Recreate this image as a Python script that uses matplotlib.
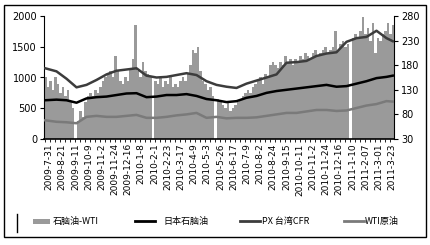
import matplotlib
matplotlib.use("Agg")
import matplotlib.pyplot as plt
import numpy as np
from matplotlib.lines import Line2D
from matplotlib.patches import Rectangle

plt.rcParams['font.family'] = ['Noto Sans CJK SC', 'DejaVu Sans']

# ---- data ----
spread = [1000, 850, 950, 800, 1000, 900, 750, 850, 700, 800,
          600, 500, 0, 300, 450, 350, 600, 700, 750, 700,
          800, 750, 850, 950, 1000, 1050, 1100, 1000, 1350, 1100,
          950, 900, 1000, 950, 1150, 1300, 1850, 1100, 1000, 1250,
          1100, 1050, 1000, 0, 950, 900, 1000, 850, 950, 900,
          1000, 850, 900, 850, 950, 1000, 950, 1050, 1200, 1450,
          1400, 1500, 1100, 950, 900, 800, 850, 700, 0, 650,
          600, 550, 500, 600, 450, 500, 550, 600, 650, 700,
          750, 800, 750, 850, 900, 950, 1000, 900, 1050, 1000,
          1200, 1250, 1200, 1150, 1250, 1200, 1350, 1250, 1300, 1200,
          1300, 1250, 1350, 1300, 1400, 1350, 1300, 1400, 1450, 1350,
          1400, 1450, 1500, 1400, 1450, 1500, 1750, 1450, 1550, 1600,
          1500, 1550, 0, 1650, 1700, 1650, 1750, 1980, 1700, 1800,
          1600, 1880, 1400, 1650, 1600, 1700, 1750, 1880, 1700, 1850]

line_idx = [0, 4.5, 8.5, 12.5, 16.5, 20.5, 24.5, 28.5, 32.5, 36.5, 40.5, 44.5,
            48.5, 52.5, 56.5, 60.5, 64.5, 68.5, 72.5, 76.5, 80.5, 84.5, 88.5, 92.5,
            96.5, 100.5, 104.5, 108.5, 112.5, 116.5, 120.5, 124.5, 128.5, 132.5, 136.5, 139]
px_cfr = [1150, 1100, 980, 840, 880, 960, 1050, 1110, 1130, 1150, 1030, 1000,
          1010, 1040, 1070, 1040, 940, 880, 850, 830, 900, 950, 1000, 1050,
          1240, 1250, 1270, 1350, 1390, 1410, 1580, 1640, 1660, 1760, 1640, 1590]
naphtha_jp = [630, 640, 630, 590, 660, 680, 690, 715, 740, 745, 680, 690,
              715, 715, 730, 700, 650, 630, 600, 615, 670, 700, 750, 780,
              800, 820, 840, 860, 880, 850, 860, 900, 940, 990, 1010, 1030]
wti = [68, 65, 64, 62, 75, 77, 75, 75, 77, 79, 73, 73,
       75, 78, 80, 83, 73, 75, 72, 73, 73, 74, 77, 80,
       83, 83, 86, 89, 89, 87, 88, 93, 98, 101, 107, 106]

date_labels = ["2009-7-31", "2009-8-21", "2009-9-11", "2009-10-9", "2009-11-2",
               "2009-11-24", "2009-12-16", "2010-1-8", "2010-2-1", "2010-2-23",
               "2010-3-17", "2010-4-9", "2010-5-3", "2010-5-26", "2010-6-17",
               "2010-7-9", "2010-8-2", "2010-8-24", "2010-9-15", "2010-10-11",
               "2010-11-2", "2010-11-24", "2010-12-16", "2011-1-10", "2011-2-07",
               "2011-3-01", "2011-3-23"]

legend_labels = ["石脑油-WTI", "日本石脑油", "PX 台湾CFR", "WTI原油"]

# ---- figure ----
W, H = 430, 245
fig = plt.figure(figsize=(W / 100, H / 100), dpi=100)
fig.patch.set_facecolor("white")

def fx(px):
    return px / W

def fy(py):
    return 1 - py / H

ax = fig.add_axes([fx(44), fy(139), fx(394) - fx(44), fy(16) - fy(139)])
ax2 = ax.twinx()

n = len(spread)
x = np.arange(n)
ax.bar(x, spread, width=1.0, color="#9a9a9a", edgecolor="none", zorder=1)
ax.plot(line_idx, naphtha_jp, color="black", lw=1.8, zorder=3)
ax.plot(line_idx, px_cfr, color="#3c3c3c", lw=1.8, zorder=3)
ax2.plot(line_idx, wti, color="#7a7a7a", lw=1.8, zorder=3)

ax.set_xlim(-0.5, n - 0.5)
ax.set_ylim(0, 2000)
ax.set_yticks([0, 500, 1000, 1500, 2000])
ax2.set_ylim(30, 280)
ax2.set_yticks([30, 80, 130, 180, 230, 280])

tick_pos = np.linspace(1.5, 138.7, len(date_labels))
ax.set_xticks(tick_pos)
ax.set_xticklabels(date_labels, rotation=90, fontsize=6.5, family="DejaVu Sans")
ax.tick_params(axis="x", length=0, pad=3)
ax.set_xticks(x[::2], minor=True)
ax.tick_params(axis="x", which="minor", length=2, width=0.6, direction="out")

ax.spines["top"].set_visible(False)
ax2.spines["top"].set_visible(False)
ax.spines["right"].set_visible(False)
ax2.spines["left"].set_visible(False)
ax2.spines["bottom"].set_visible(False)
ax.spines["left"].set_linewidth(0.8)
ax2.spines["right"].set_linewidth(0.8)
ax.spines["bottom"].set_linewidth(1.2)

ax.tick_params(axis="y", labelsize=7, length=3, width=0.8, direction="out", pad=2)
ax2.tick_params(axis="y", labelsize=7, length=3, width=0.8, direction="out", pad=2)
for t in ax.get_yticklabels() + ax2.get_yticklabels():
    t.set_family("DejaVu Sans")

# outer border
fig.add_artist(Rectangle((fx(4), fy(237)), fx(426) - fx(4), fy(5) - fy(237),
                         transform=fig.transFigure, fill=False, lw=1.0, ec="black"))
fig.add_artist(Line2D([fx(17), fx(17)], [fy(214), fy(232)], transform=fig.transFigure,
                      color="black", lw=1.0))

# legend (manual)
ly = fy(221)
fig.add_artist(Rectangle((fx(33), ly - 2.5 / H), 17 / W, 5 / H, transform=fig.transFigure,
                         fc="#9a9a9a", ec="none"))
fig.text(fx(53), ly, legend_labels[0], fontsize=6.5, va="center", ha="left")
fig.add_artist(Line2D([fx(135), fx(155)], [ly, ly], transform=fig.transFigure, color="black", lw=2))
fig.text(fx(163), ly, legend_labels[1], fontsize=6.5, va="center", ha="left")
fig.add_artist(Line2D([fx(240), fx(260)], [ly, ly], transform=fig.transFigure, color="#3c3c3c", lw=2))
fig.text(fx(262), ly, legend_labels[2], fontsize=6.5, va="center", ha="left")
fig.add_artist(Line2D([fx(344), fx(364)], [ly, ly], transform=fig.transFigure, color="#7a7a7a", lw=2))
fig.text(fx(365), ly, legend_labels[3], fontsize=6.5, va="center", ha="left")

fig.savefig("out.png", dpi=100, facecolor="white")
